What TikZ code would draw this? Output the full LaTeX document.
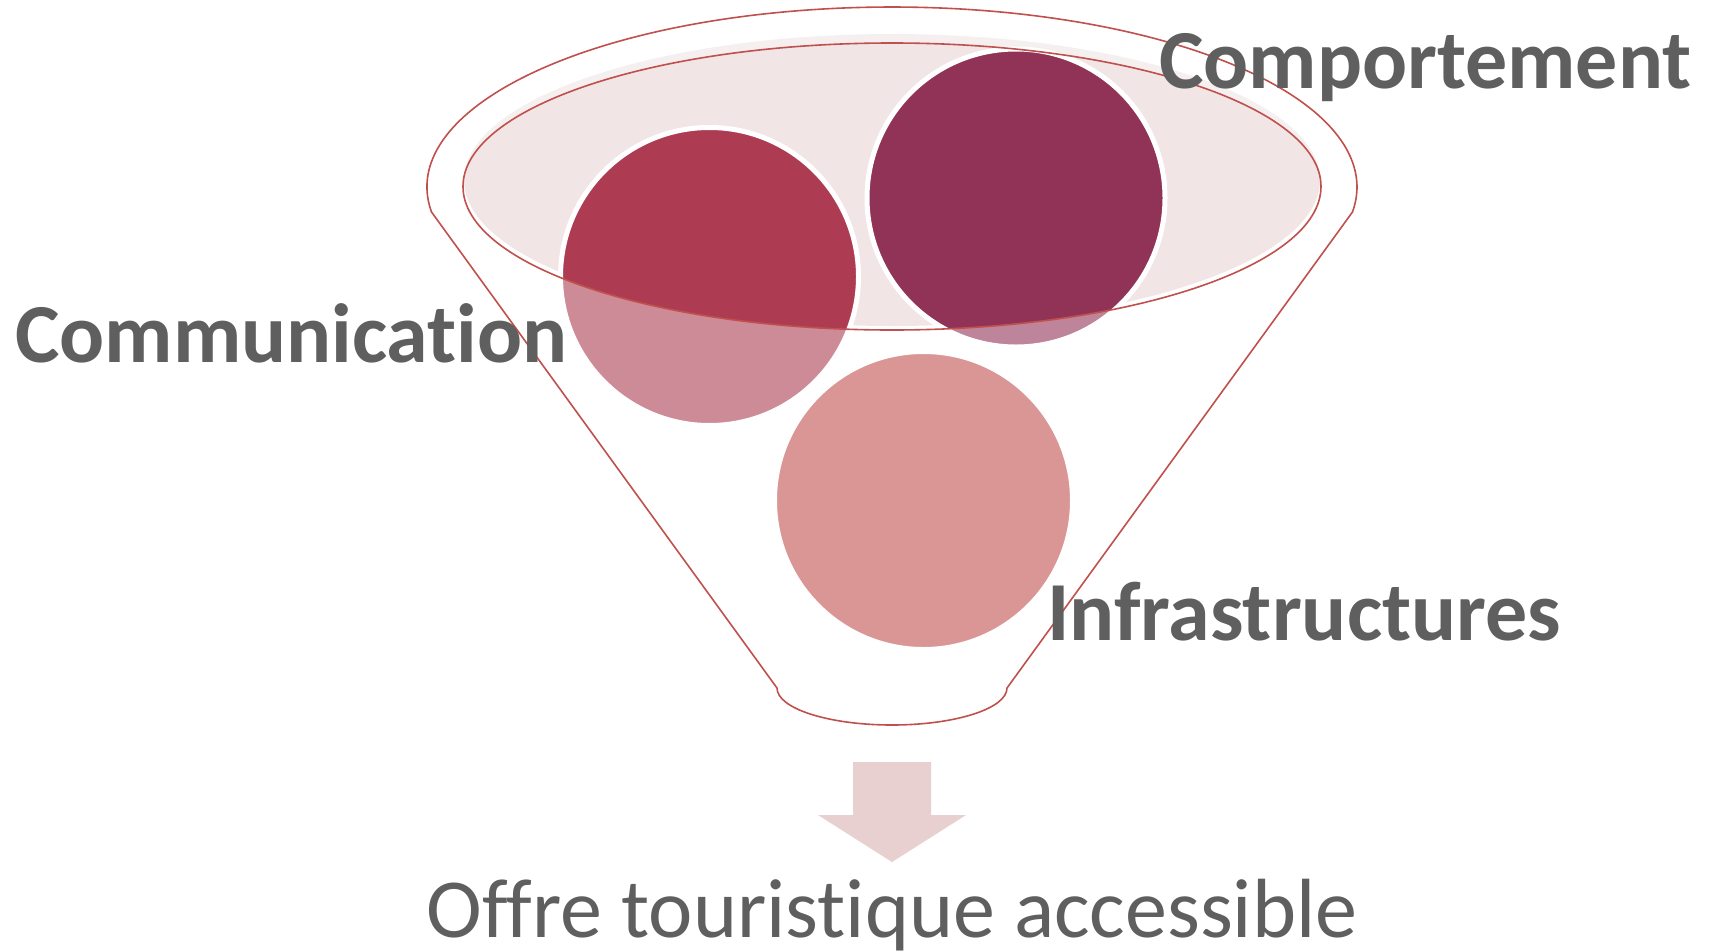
\documentclass[tikz,border=0pt]{standalone}
\usepackage{fontspec}
\setmainfont{Carlito}[Ligatures={NoCommon}]
\definecolor{funnelred}{HTML}{C0504D}
\definecolor{rimfill}{HTML}{F1E5E6}
\definecolor{commcol}{HTML}{AD3C52}
\definecolor{compcol}{HTML}{913257}
\definecolor{arrowcol}{HTML}{E8CFD0}
\definecolor{labelgray}{HTML}{5F5F5F}
\begin{document}
\begin{tikzpicture}[x=1pt,y=1pt]
        \tikzstyle{ball}=[circle, minimum size=298pt, inner sep=0pt, line width=5pt, draw=white]
        \tikzstyle{rim}=[draw=funnelred, line width=1.6pt]
        \tikzstyle{big}=[text=labelgray, font=\fontsize{84}{100}\selectfont\bfseries, inner sep=0pt, anchor=base west]
        \useasboundingbox (0,0) rectangle (1719,-951);
        \fill[rimfill] (892,-180) ellipse [x radius=428, y radius=146];
        \node[ball,fill=commcol] (comm) at (709.5,-276.5) {};
        \node[ball,fill=compcol] (comp) at (1016,-198) {};
        \node[ball,fill=funnelred] (infra) at (923.5,-500.5) {};
        % wall of the funnel, seen over the balls
        \fill[white, fill opacity=0.4, even odd rule] (0,0) rectangle (1719,-951)
          (892,-186.5) ellipse [x radius=429, y radius=143.5];
        \draw[rim] (892,-186.5) ellipse [x radius=429, y radius=143.5];
        \draw[rim] (431.5,-212) arc[start angle=187.98, end angle=-7.98, x radius=465, y radius=180]
          -- (1007,-688) arc[start angle=0, end angle=-180, x radius=115, y radius=37] -- cycle;
        \fill[arrowcol] (853,-762) -- (931,-762) -- (931,-815) -- (966,-815) -- (892,-862)
          -- (818,-815) -- (853,-815) -- cycle;
        \node[big] (commlabel) at (15,-362) {Communication};
        \node[big] (complabel) at (1159,-88) {Comportement};
        \node[big] (infralabel) at (1047,-640) {Infrastructures};
        \node[text=labelgray, font=\fontsize{84}{100}\selectfont, inner sep=0pt, anchor=base] (offer) at (892,-937) {Offre touristique accessible};
\end{tikzpicture}
\end{document}
